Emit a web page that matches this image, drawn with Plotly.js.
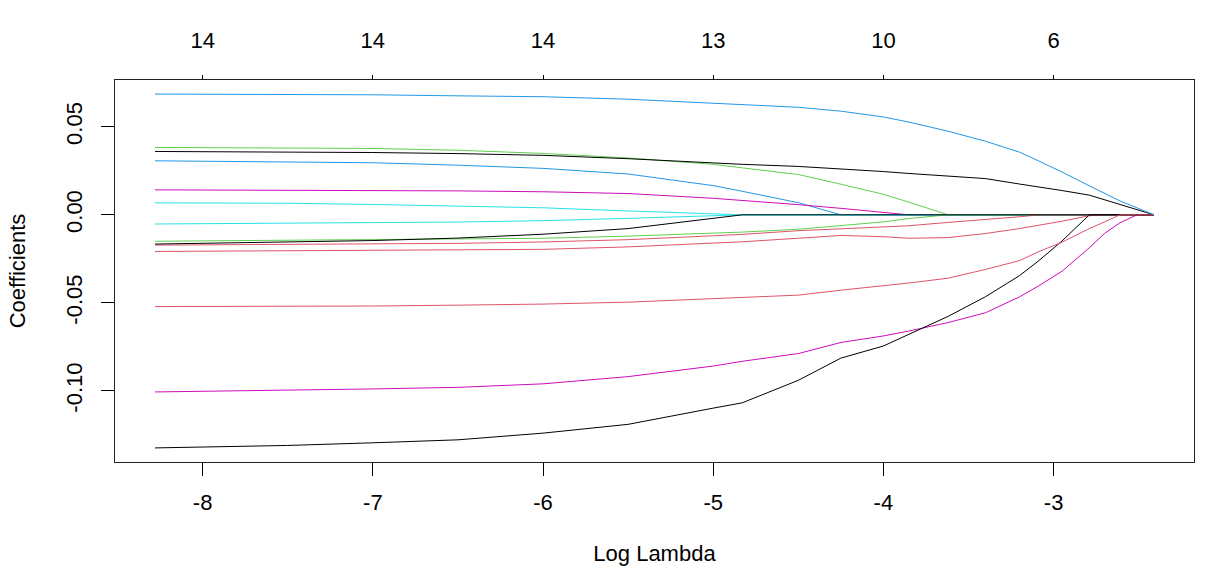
<!DOCTYPE html>
<html>
<head>
<meta charset="utf-8">
<script src="https://cdn.plot.ly/plotly-3.0.1.min.js"></script>
<style>html,body{margin:0;padding:0;background:#fff;}#chart{width:1216px;height:574px;}</style>
</head>
<body>
<div id="chart"></div>
<script>
// Log(lambda) grid (x values)
const logLambda = [-8.28, -7.5, -7.0, -6.5, -6.0, -5.5, -5.0, -4.83, -4.5, -4.25, -4.0, -3.85, -3.62, -3.4, -3.2, -3.09, -2.95, -2.79, -2.7, -2.61, -2.51, -2.41];

// coefficient paths
const blueTop     = [0.0686, 0.0684, 0.0682, 0.0676, 0.0671, 0.0657, 0.0635, 0.0628, 0.0611, 0.0589, 0.0556, 0.0527, 0.0475, 0.0418, 0.0356, 0.0307, 0.0243, 0.0165, 0.0122, 0.0079, 0.0040, 0];
const greenTop    = [0.0383, 0.0380, 0.0377, 0.0367, 0.0349, 0.0323, 0.0287, 0.0267, 0.0229, 0.0174, 0.0117, 0.0072, 0, 0, 0, 0, 0, 0, 0, 0, 0, 0];
const blackTop    = [0.0360, 0.0357, 0.0354, 0.0348, 0.0338, 0.0319, 0.0293, 0.0287, 0.0275, 0.0262, 0.0246, 0.0235, 0.0220, 0.0206, 0.0175, 0.0160, 0.0138, 0.0112, 0.0086, 0.0060, 0.0033, 0];
const blueLow     = [0.0307, 0.0302, 0.0296, 0.0282, 0.0264, 0.0232, 0.0166, 0.0134, 0.0069, 0, 0, 0, 0, 0, 0, 0, 0, 0, 0, 0, 0, 0];
const magentaTop  = [0.0142, 0.0141, 0.0140, 0.0136, 0.0131, 0.0121, 0.0094, 0.0083, 0.0058, 0.0037, 0.0012, 0, 0, 0, 0, 0, 0, 0, 0, 0, 0, 0];
const cyanTop     = [0.0068, 0.0066, 0.0059, 0.0050, 0.0040, 0.0022, 0.0003, 0, 0, 0, 0, 0, 0, 0, 0, 0, 0, 0, 0, 0, 0, 0];
const cyanLow     = [-0.0052, -0.0045, -0.0044, -0.0041, -0.0033, -0.0020, -0.0005, 0, 0, 0, 0, 0, 0, 0, 0, 0, 0, 0, 0, 0, 0, 0];
const greenLow    = [-0.0150, -0.0145, -0.0143, -0.0140, -0.0133, -0.0121, -0.0104, -0.0098, -0.0082, -0.0061, -0.0040, -0.0021, 0, 0, 0, 0, 0, 0, 0, 0, 0, 0];
const redA        = [-0.0172, -0.0169, -0.0167, -0.0162, -0.0154, -0.0141, -0.0119, -0.0111, -0.0090, -0.0079, -0.0068, -0.0062, -0.0043, -0.0027, -0.0011, 0, 0, 0, 0, 0, 0, 0];
const redB        = [-0.0208, -0.0205, -0.0203, -0.0199, -0.0196, -0.0182, -0.0161, -0.0153, -0.0133, -0.0117, -0.0124, -0.0133, -0.0129, -0.0106, -0.0078, -0.0061, -0.0036, -0.0005, 0, 0, 0, 0];
const magentaLow  = [-0.1006, -0.0998, -0.0989, -0.0980, -0.0960, -0.0919, -0.0859, -0.0832, -0.0788, -0.0725, -0.0688, -0.0660, -0.0612, -0.0556, -0.0466, -0.0405, -0.0320, -0.0187, -0.0105, -0.0045, 0, 0];
const blackLow    = [-0.0166, -0.0155, -0.0146, -0.0132, -0.0110, -0.0078, -0.0020, 0, 0, 0, 0, 0, 0, 0, 0, 0, 0, 0, 0, 0, 0, 0];
const blackBottom = [-0.1324, -0.1310, -0.1295, -0.1278, -0.1240, -0.1190, -0.1098, -0.1068, -0.0940, -0.0814, -0.0745, -0.0680, -0.0577, -0.0465, -0.0345, -0.0263, -0.0148, 0, 0, 0, 0, 0];
const redC        = [-0.0521, -0.0520, -0.0518, -0.0513, -0.0507, -0.0496, -0.0478, -0.0471, -0.0456, -0.0428, -0.0403, -0.0387, -0.0360, -0.0310, -0.0260, -0.0210, -0.0155, -0.0078, -0.0040, 0, 0, 0];

// axis ticks
const xTicks = [-8, -7, -6, -5, -4, -3];
const xTickText = ['-8', '-7', '-6', '-5', '-4', '-3'];
const dfText = ['14', '14', '14', '13', '10', '6'];
const yTicks = [-0.10, -0.05, 0, 0.05];
const yTickText = ['-0.10', '-0.05', '0.00', '0.05'];

const series = [
  {y: blueTop, c: '#2297E6'},
  {y: greenTop, c: '#61D04F'},
  {y: blueLow, c: '#2297E6'},
  {y: magentaTop, c: '#CD0BBC'},
  {y: cyanTop, c: '#28E2E5'},
  {y: cyanLow, c: '#28E2E5'},
  {y: greenLow, c: '#61D04F'},
  {y: redA, c: '#DF536B'},
  {y: redB, c: '#DF536B'},
  {y: magentaLow, c: '#CD0BBC'},
  {y: blackLow, c: '#000000'},
  {y: blackTop, c: '#000000'},
  {y: blackBottom, c: '#000000'},
  {y: redC, c: '#DF536B'}
];

const traces = series.map((s, i) => ({
  x: logLambda, y: s.y, type: 'scatter', mode: 'lines',
  line: {color: s.c, width: 1}, hoverinfo: 'skip',
  xaxis: i === 0 ? 'x2' : 'x', yaxis: 'y'
}));

const xRange = [-8.515, -2.175];
const yRange = [-0.1404, 0.0766];
const fontFam = '"Liberation Sans", Arial, sans-serif';

const layout = {
  width: 1216, height: 574,
  margin: {l: 115, r: 22, t: 80, b: 112, pad: 0},
  paper_bgcolor: '#ffffff', plot_bgcolor: '#ffffff',
  font: {family: fontFam, size: 22, color: '#000'},
  showlegend: false,
  xaxis: {
    range: xRange, tickmode: 'array', tickvals: xTicks, ticktext: xTickText,
    ticks: 'outside', ticklen: 13, tickwidth: 1, tickcolor: '#000',
    showline: true, linecolor: '#222', linewidth: 1, mirror: true,
    showgrid: false, zeroline: false, ticklabelstandoff: 8,
    title: {text: 'Log Lambda', font: {size: 22}, standoff: 31}
  },
  xaxis2: {
    range: xRange, overlaying: 'x', side: 'top', anchor: 'y',
    tickmode: 'array', tickvals: xTicks, ticktext: dfText,
    ticks: 'outside', ticklen: 4, tickwidth: 1, tickcolor: '#000',
    showline: false, showgrid: false, zeroline: false, ticklabelstandoff: 18
  },
  yaxis: {
    range: yRange, tickmode: 'array', tickvals: yTicks, ticktext: yTickText,
    tickangle: -90, ticks: 'outside', ticklen: 13, tickwidth: 1, tickcolor: '#000',
    showline: true, linecolor: '#222', linewidth: 1, mirror: true,
    showgrid: false, zeroline: false, ticklabelstandoff: 10,
    title: {text: 'Coefficients', font: {size: 22}, standoff: 30}
  }
};

Plotly.newPlot('chart', traces, layout, {displayModeBar: false, staticPlot: true});
</script>
</body>
</html>
